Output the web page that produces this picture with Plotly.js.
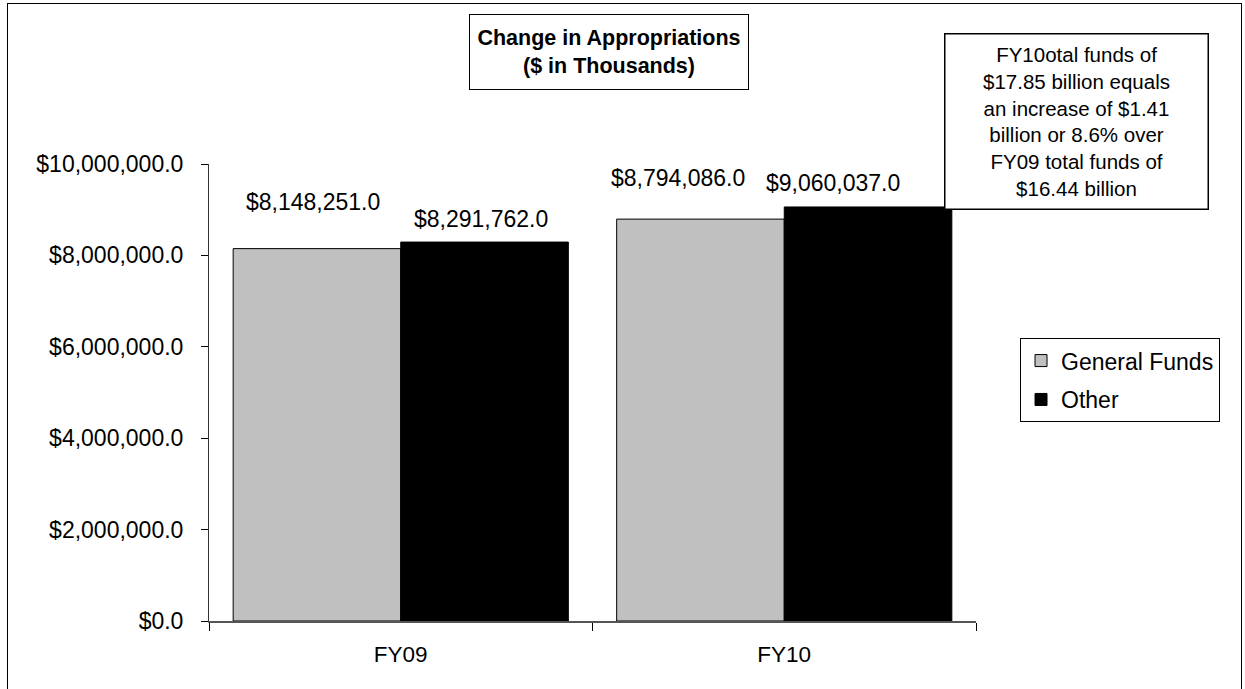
<!DOCTYPE html>
<html>
<head>
<meta charset="utf-8">
<script src="https://cdn.plot.ly/plotly-3.0.1.min.js"></script>
<style>
  html, body { margin: 0; padding: 0; background: #fff; }
  #wrap { position: relative; width: 1245px; height: 689px; overflow: hidden; }
  #chart { width: 1245px; height: 689px; }
  #frame { position: absolute; left: 7px; top: 3px; width: 1233px; height: 720px;
           border: 1.5px solid #000; pointer-events: none; }
</style>
</head>
<body>
<div id="wrap">
  <div id="chart"></div>
  <div id="frame"></div>
</div>
<script>
// ---- data ----
const categories = ["FY09", "FY10"];
const seriesNames = ["General Funds", "Other"];
const generalFunds = [8148251.0, 8794086.0];
const otherFunds = [8291762.0, 9060037.0];
const titleLines = ["Change in Appropriations", "($ in Thousands)"];
const noteLines = ["FY10otal funds of", "$17.85 billion equals", "an increase of $1.41",
                   "billion or 8.6% over", "FY09 total funds of", "$16.44 billion"];

// ---- styles ----
const FONT = "Arial, 'Liberation Sans', sans-serif";
const seriesColors = ["#C0C0C0", "#000000"];
const barHalf = 84;            // half of one bar's pixel width (offset of each series within group)
const labelDX = [[-4, -22], [-4, -35]];   // [series][category] pixel tweaks
const labelDY = [[47, 41], [23, 24]];

function fmt(v) {
  return "$" + v.toLocaleString("en-US", {minimumFractionDigits: 1, maximumFractionDigits: 1});
}

const seriesValues = [generalFunds, otherFunds];
const traces = seriesValues.map((vals, i) => ({
  type: "bar",
  name: seriesNames[i],
  legendgroup: "g" + i,
  x: categories,
  y: vals,
  marker: { color: seriesColors[i], line: { color: "#000", width: 1 } },
  hoverinfo: "skip"
}));

const annotations = [];
seriesValues.forEach((vals, s) => {
  vals.forEach((v, c) => {
    annotations.push({
      x: categories[c], y: v, xref: "x", yref: "y",
      text: fmt(v), showarrow: false,
      xshift: (s === 0 ? -barHalf : barHalf) + labelDX[s][c],
      yshift: labelDY[s][c], yanchor: "middle",
      font: { family: FONT, size: 23, color: "#000" }
    });
  });
});

annotations.push({
  xref: "paper", yref: "paper", x: 0.5215, y: 1.246,
  xanchor: "center", yanchor: "middle",
  text: "<b>" + titleLines.join("<br>") + "</b>", showarrow: false,
  font: { family: FONT, size: 21.5, color: "#000" },
  bordercolor: "#000", borderwidth: 1, borderpad: 1, bgcolor: "#fff",
  width: 276, height: 72
});
annotations.push({
  xref: "paper", yref: "paper", x: 1.131, y: 1.093,
  xanchor: "center", yanchor: "middle",
  text: noteLines.join("<br>"), showarrow: false,
  font: { family: FONT, size: 20.5, color: "#000" },
  bordercolor: "#000", borderwidth: 1.5, borderpad: 1, bgcolor: "#fff",
  width: 260, height: 172
});

const layout = {
  width: 1245, height: 689,
  margin: { l: 209, r: 269, t: 164, b: 68, pad: 0 },
  paper_bgcolor: "#fff", plot_bgcolor: "#fff",
  barmode: "group", bargap: 0.126, bargroupgap: 0,
  font: { family: FONT, color: "#000" },
  showlegend: true,
  legend: {
    x: 1.0574, y: 0.619, xanchor: "left", yanchor: "top",
    bordercolor: "#000", borderwidth: 1, bgcolor: "#fff",
    font: { family: FONT, size: 23, color: "#000" },
    traceorder: "grouped", tracegroupgap: 6, itemwidth: 30
  },
  xaxis: {
    type: "category", tickson: "boundaries", ticks: "outside", ticklen: 8,
    tickcolor: "#000", showline: true, linecolor: "#555", linewidth: 1.5,
    showgrid: false, zeroline: false, ticklabelstandoff: 12,
    tickfont: { family: FONT, size: 22.5, color: "#000" }
  },
  yaxis: {
    range: [0, 10000000], dtick: 2000000, tick0: 0,
    tickformat: "$,.1f", ticks: "outside", ticklen: 7, tickcolor: "#000",
    showline: true, linecolor: "#333", linewidth: 1, showgrid: false,
    zeroline: false, ticklabelstandoff: 13,
    tickfont: { family: FONT, size: 23, color: "#000" }
  },
  annotations: annotations
};

Plotly.newPlot("chart", traces, layout, { displayModeBar: false, staticPlot: true });
</script>
</body>
</html>
